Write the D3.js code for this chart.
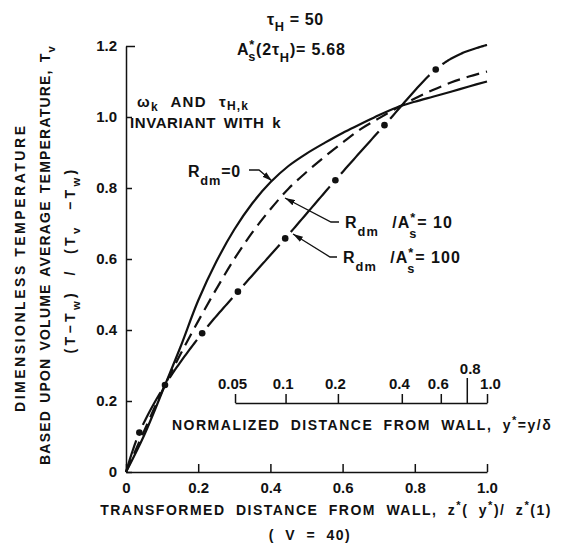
<!DOCTYPE html>
<meta charset="utf-8">
<style>
body { margin: 0; background: #fff; }
svg { display: block; }
text { font-family: "Liberation Sans", Arial, sans-serif; font-weight: bold; fill: #111; }
.axis path, .axis line { stroke: #111; stroke-width: 1.5px; }
.axis text { font-size: 15px; }
.curve { fill: none; stroke: #111; stroke-width: 2.2px; }
.lead { fill: none; stroke: #111; stroke-width: 1.3px; }
.cap { font-size: 14px; letter-spacing: 1.5px; word-spacing: 5px; }
</style>
<svg width="563" height="552"></svg>
<script src="https://cdn.jsdelivr.net/npm/d3@7"></script>
<script>

// transformed distance z*(y*)/z*(1)
var zSolid  = [0, 0.05, 0.108, 0.15, 0.2, 0.25, 0.3, 0.35, 0.4, 0.45, 0.5, 0.55, 0.6, 0.65, 0.7, 0.75, 0.8, 0.85, 0.9, 0.95, 1.0]
var tSolid  = [0, 0.103, 0.245, 0.35, 0.483, 0.592, 0.683, 0.757, 0.816, 0.862, 0.897, 0.927, 0.955, 0.98, 1.005, 1.027, 1.043, 1.057, 1.071, 1.086, 1.1]

var zDash   = [0, 0.05, 0.108, 0.15, 0.2, 0.25, 0.3, 0.35, 0.4, 0.45, 0.5, 0.55, 0.6, 0.65, 0.7, 0.75, 0.8, 0.85, 0.9, 0.95, 1.0]
var tDash   = [0, 0.115, 0.245, 0.33, 0.425, 0.515, 0.6, 0.675, 0.74, 0.798, 0.845, 0.888, 0.928, 0.966, 0.996, 1.025, 1.052, 1.076, 1.097, 1.114, 1.128]

var zDot    = [0, 0.037, 0.108, 0.211, 0.31, 0.441, 0.58, 0.716, 0.858, 0.925, 1.0]
var tDot    = [0, 0.111, 0.245, 0.391, 0.508, 0.658, 0.822, 0.977, 1.134, 1.177, 1.203]
// which points of the R/A=100 curve carry a dot
var dotIdx  = [1, 2, 3, 4, 5, 6, 7, 8]

var xTicks  = [0, 0.2, 0.4, 0.6, 0.8, 1.0]
var yTicks  = [0, 0.2, 0.4, 0.6, 0.8, 1.0, 1.2]

// normalized distance y* and where it sits on the z* axis
var yStar   = [0.05, 0.1, 0.2, 0.4, 0.6, 0.8, 1.0]
var yStarZ  = [0.302, 0.442, 0.587, 0.764, 0.872, 0.944, 1.0]
var yStarLb = ["0.05", "0.1", "0.2", "0.4", "0.6", "0.8", "1.0"]

var svg = d3.select("svg")

var x = d3.scaleLinear().domain([0, 1]).range([126, 487])
var y = d3.scaleLinear().domain([0, 1.2]).range([472, 46])
var ys = d3.scaleLinear().domain(yStar).range(yStarZ.map(x))

var fmt = function(d) { return d === 0 ? "0" : d3.format(".1f")(d) }

// axes
svg.append("g").attr("class", "axis")
    .attr("transform", "translate(0," + y(0) + ")")
    .call(d3.axisBottom(x).tickValues(xTicks).tickFormat(fmt).tickSize(-8).tickSizeOuter(0).tickPadding(10))
svg.append("g").attr("class", "axis")
    .attr("transform", "translate(" + x(0) + ",0)")
    .call(d3.axisLeft(y).tickValues(yTicks).tickFormat(fmt).tickSize(-6).tickSizeOuter(0).tickPadding(9))
  .selectAll(".tick").filter(function(d) { return d === 1.2 })
    .select("line").attr("x2", 9)

var sec = svg.append("g").attr("class", "axis")
    .attr("transform", "translate(0,403)")
    .call(d3.axisTop(ys).tickValues(yStar).tickFormat(function(d, i) { return yStarLb[i] })
      .tickSize(9).tickSizeOuter(0).tickPadding(5))
sec.selectAll(".tick").filter(function(d) { return d === 0.8 })
    .each(function() {
      d3.select(this).select("line").attr("y2", -25)
      d3.select(this).select("text").attr("y", -29)
    })
sec.selectAll(".tick text").attr("dx", function(d) { return d === 0.8 ? 3 : d === 1 ? 3 : -3 })

// curves
var line = d3.line()
    .x(function(d) { return x(d[0]) })
    .y(function(d) { return y(d[1]) })
    .curve(d3.curveCatmullRom.alpha(0.5))

svg.append("path").attr("class", "curve")
    .attr("d", line(d3.zip(zSolid, tSolid)))
svg.append("path").attr("class", "curve")
    .attr("stroke-dasharray", "13,7")
    .attr("d", line(d3.zip(zDash, tDash)))

// flatten the catmull-rom curve into a polyline so it can be cut
// into pieces between the dots
function flatten(pts) {
  var out = [], cx = 0, cy = 0, marks = []
  var ctx = {
    moveTo: function(a, b) { out.push([a, b]); cx = a; cy = b; marks.push(out.length - 1) },
    lineTo: function(a, b) { out.push([a, b]); cx = a; cy = b; marks.push(out.length - 1) },
    bezierCurveTo: function(x1, y1, x2, y2, x3, y3) {
      for (var k = 1; k <= 24; k++) {
        var t = k / 24, u = 1 - t
        out.push([u*u*u*cx + 3*u*u*t*x1 + 3*u*t*t*x2 + t*t*t*x3,
                  u*u*u*cy + 3*u*u*t*y1 + 3*u*t*t*y2 + t*t*t*y3])
      }
      cx = x3; cy = y3
      marks.push(out.length - 1)
    },
    closePath: function() {}
  }
  line.context(ctx)(pts)
  line.context(null)
  return { pts: out, marks: marks }
}

var dotPts = d3.zip(zDot, tDot)
var flat = flatten(dotPts), P = flat.pts
var cum = [0]
for (var i = 1; i < P.length; i++) {
  cum.push(cum[i - 1] + Math.hypot(P[i][0] - P[i - 1][0], P[i][1] - P[i - 1][1]))
}
var L = cum[cum.length - 1]

function pointAt(s) {
  var j = d3.bisectLeft(cum, s)
  if (j <= 0) return P[0]
  if (j >= P.length) return P[P.length - 1]
  var f = (s - cum[j - 1]) / (cum[j] - cum[j - 1] || 1)
  return [P[j - 1][0] + f * (P[j][0] - P[j - 1][0]), P[j - 1][1] + f * (P[j][1] - P[j - 1][1])]
}
function piece(a, b) {
  var seg = [pointAt(a)]
  for (var j = 0; j < P.length; j++) if (cum[j] > a && cum[j] < b) seg.push(P[j])
  seg.push(pointAt(b))
  return seg
}

// R/A=100 line: one long dash between consecutive dots
var g = 8.5, start = 0, pieces = []
dotIdx.forEach(function(i) {
  var l = cum[flat.marks[i]]
  if (l - g > start) pieces.push(piece(start, l - g))
  start = l + g
})
pieces.push(piece(start, L))

svg.selectAll(".dd")
  .data(pieces)
  .enter().append("path")
    .attr("class", "curve dd")
    .attr("d", d3.line())

svg.selectAll(".dot")
  .data(dotIdx.map(function(i) { return dotPts[i] }))
  .enter().append("circle")
    .attr("class", "dot")
    .attr("cx", function(d) { return x(d[0]) })
    .attr("cy", function(d) { return y(d[1]) })
    .attr("r", 3.3)
    .attr("fill", "#111")

// text helper: parts = [text, baseline shift, dx]
function label(px, py, parts, size, anchor, rot) {
  var t = svg.append("text")
      .attr("font-size", size)
      .attr("text-anchor", anchor || "start")
  if (rot) t.attr("transform", "translate(" + px + "," + py + ") rotate(-90)")
  else t.attr("x", px).attr("y", py)
  var cur = 0
  parts.forEach(function(p) {
    var s = t.append("tspan").text(p[0]).attr("dy", (p[1] || 0) - cur)
    if (p[1]) s.attr("font-size", size * 0.8)
    if (p[2]) s.attr("dx", p[2])
    cur = p[1] || 0
  })
  return t
}

label(267, 25, [["τ"], ["H", 6], [" = 50"]], 16).attr("letter-spacing", 0.6)
label(237, 55, [["A"], ["*", -6], ["s", 6, -7], ["(2τ"], ["H", 7], [")= 5.68"]], 16).attr("letter-spacing", 0.8)
label(137, 107, [["ω"], ["k", 4], [" AND τ"], ["H,k", 3]], 15).attr("letter-spacing", 1.2).attr("word-spacing", 7)
label(130, 128, [["INVARIANT WITH k"]], 15).attr("letter-spacing", 0.6).attr("word-spacing", 3)

label(188, 177, [["R"], ["dm", 8], ["=0"]], 16).attr("letter-spacing", 0.8)
label(345, 228, [["R"], ["dm", 8], [" /A", 0, 8], ["*", -6], ["s", 10, -7], ["= 10", 0]], 16).attr("letter-spacing", 1)
label(343, 263, [["R"], ["dm", 8], [" /A", 0, 8], ["*", -6], ["s", 10, -7], ["= 100", 0]], 16).attr("letter-spacing", 1)

svg.append("defs").append("marker")
    .attr("id", "arr").attr("viewBox", "0 0 10 6")
    .attr("refX", 10).attr("refY", 3)
    .attr("markerWidth", 10).attr("markerHeight", 6)
    .attr("markerUnits", "userSpaceOnUse")
    .attr("orient", "auto")
  .append("path").attr("d", "M0,0L10,3L0,6Z").attr("fill", "#111")

var lead = d3.line()
svg.append("path").attr("class", "lead").attr("marker-end", "url(#arr)")
    .attr("d", lead([[249, 170], [259, 170], [272, 181]]))
svg.append("path").attr("class", "lead").attr("marker-end", "url(#arr)")
    .attr("d", lead([[339, 222], [331, 222], [285, 198]]))
svg.append("path").attr("class", "lead").attr("marker-end", "url(#arr)")
    .attr("d", lead([[337, 257], [330, 257], [293, 234]]))

// axis captions
label(172, 430, [["NORMALIZED DISTANCE FROM WALL, y"], ["*", -6], ["=y/δ", 0]], 14).attr("class", "cap")
label(326, 515, [["TRANSFORMED DISTANCE FROM WALL, z"], ["*", -6], ["( y"], ["*", -6], [")/ z"], ["*", -6], ["(1)"]], 14, "middle").attr("class", "cap")
label(310, 540, [["( V = 40)"]], 14, "middle").attr("class", "cap").attr("word-spacing", 2)

label(25, 269, [["DIMENSIONLESS TEMPERATURE"]], 14, "middle", true)
    .attr("textLength", 286).attr("lengthAdjust", "spacing")
label(50, 255, [["BASED UPON VOLUME AVERAGE TEMPERATURE, T"], ["v", 5]], 14, "middle", true)
    .attr("letter-spacing", 1.2).attr("word-spacing", 2)
label(75, 260, [["(T−T"], ["w", 5], [") / (T"], ["v", 5], [" −T"], ["w", 5], [")"]], 14, "middle", true)
    .attr("letter-spacing", 3.4).attr("word-spacing", 7)

</script>
